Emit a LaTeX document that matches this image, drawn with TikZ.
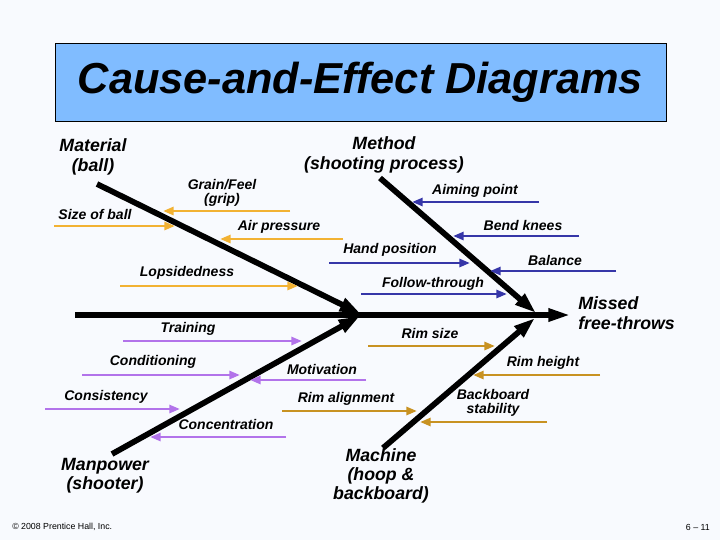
\documentclass[tikz,border=0pt]{standalone}
\usepackage{fontspec}
\setmainfont{Liberation Sans}
\usetikzlibrary{arrows.meta}
\definecolor{bg}{HTML}{F8FAFE}
\definecolor{titlebg}{HTML}{80BCFF}
\definecolor{cmat}{HTML}{F2B233}
\definecolor{cmeth}{HTML}{3636A8}
\definecolor{cman}{HTML}{B273EA}
\definecolor{cmach}{HTML}{C89222}
\begin{document}
\begin{tikzpicture}[x=0.75pt,y=-0.75pt,
 big/.style={font=\fontsize{13.3}{14.5}\selectfont\bfseries\itshape, align=center, inner sep=0},
 small/.style={font=\fontsize{10.5}{11}\selectfont\bfseries\itshape, align=center, inner sep=0},
 bone/.style={line width=4.3pt, -{Triangle[length=16pt,width=10pt]}},
 spine/.style={line width=4.5pt, -{Triangle[length=17pt,width=9pt]}},
 sub/.style={line width=2.2pt, -{Triangle[length=8pt,width=6pt]}},
]
\fill[bg] (0,0) rectangle (720,540);
\useasboundingbox (0,0) rectangle (720,540);
% title
\node[draw=black, line width=0.6pt, fill=titlebg, minimum width=611*0.75pt, minimum height=78*0.75pt, inner sep=0,
      font=\fontsize{32.5}{34}\selectfont\bfseries\itshape] (title) at (360.5,82) {Cause-and-Effect Diagrams};
% main bones
\coordinate (sp0) at (75,315);
\coordinate (effect) at (571,315);
\coordinate (mat0) at (97,184);
\coordinate (mat1) at (361,314);
\coordinate (met0) at (380,178);
\coordinate (met1) at (536,313);
\coordinate (man0) at (112,454);
\coordinate (man1) at (360,316);
\coordinate (mac0) at (383,448);
\coordinate (mac1) at (535,318);
\draw[spine] (sp0) -- (effect);
\draw[bone] (mat0) -- (mat1);
\draw[bone] (met0) -- (met1);
\draw[bone] (man0) -- (man1);
\draw[bone] (mac0) -- (mac1);
% category labels
\node[big] (lmat) at (93,157) {Material\\(ball)};
\node[big] (lmet) at (384,155) {Method\\(shooting process)};
\node[big, anchor=west, align=left] (leff) at (578,313) {Missed\\free-throws};
\node[big] (lman) at (105,476) {Manpower\\(shooter)};
\node[big] (lmac) at (381,476) {Machine\\(hoop \&\\backboard)};
% material causes
\node[small] (t1) at (222,193) {Grain/Feel\\(grip)};
\coordinate (a1s) at (290,211); \coordinate (a1e) at (163,211);
\draw[sub, cmat] (a1s) -- (a1e);
\node[small] (t2) at (95,214) {Size of ball};
\coordinate (a2s) at (54,226); \coordinate (a2e) at (175,226);
\draw[sub, cmat] (a2s) -- (a2e);
\node[small] (t3) at (279,227) {Air pressure};
\coordinate (a3s) at (343,239); \coordinate (a3e) at (220,239);
\draw[sub, cmat] (a3s) -- (a3e);
\node[small] (t4) at (187,273) {Lopsidedness};
\coordinate (a4s) at (120,286); \coordinate (a4e) at (298,286);
\draw[sub, cmat] (a4s) -- (a4e);
% method causes
\node[small] (t5) at (475,191) {Aiming point};
\coordinate (a5s) at (539,202); \coordinate (a5e) at (412,202);
\draw[sub, cmeth] (a5s) -- (a5e);
\node[small] (t6) at (523,225) {Bend knees};
\coordinate (a6s) at (579,236); \coordinate (a6e) at (453,236);
\draw[sub, cmeth] (a6s) -- (a6e);
\node[small] (t7) at (390,250) {Hand position};
\coordinate (a7s) at (329,263); \coordinate (a7e) at (470,263);
\draw[sub, cmeth] (a7s) -- (a7e);
\node[small] (t8) at (555,260) {Balance};
\coordinate (a8s) at (616,271); \coordinate (a8e) at (490,271);
\draw[sub, cmeth] (a8s) -- (a8e);
\node[small] (t9) at (433,284) {Follow-through};
\coordinate (a9s) at (361,294); \coordinate (a9e) at (507,294);
\draw[sub, cmeth] (a9s) -- (a9e);
% manpower causes
\node[small] (t10) at (188,329) {Training};
\coordinate (a10s) at (123,341); \coordinate (a10e) at (302,341);
\draw[sub, cman] (a10s) -- (a10e);
\node[small] (t11) at (153,362) {Conditioning};
\coordinate (a11s) at (82,375); \coordinate (a11e) at (240,375);
\draw[sub, cman] (a11s) -- (a11e);
\node[small] (t12) at (106,397) {Consistency};
\coordinate (a12s) at (45,409); \coordinate (a12e) at (180,409);
\draw[sub, cman] (a12s) -- (a12e);
\node[small] (t13) at (226,424) {Concentration};
\coordinate (a13s) at (286,437); \coordinate (a13e) at (150,437);
\draw[sub, cman] (a13s) -- (a13e);
\node[small] (t14) at (322,369) {Motivation};
\coordinate (a14s) at (366,380); \coordinate (a14e) at (250,380);
\draw[sub, cman] (a14s) -- (a14e);
% machine causes
\node[small] (t15) at (430,333) {Rim size};
\coordinate (a15s) at (368,346); \coordinate (a15e) at (495,346);
\draw[sub, cmach] (a15s) -- (a15e);
\node[small] (t16) at (543,363) {Rim height};
\coordinate (a16s) at (600,375); \coordinate (a16e) at (473,375);
\draw[sub, cmach] (a16s) -- (a16e);
\node[small] (t17) at (346,399) {Rim alignment};
\coordinate (a17s) at (282,411); \coordinate (a17e) at (417,411);
\draw[sub, cmach] (a17s) -- (a17e);
\node[small] (t18) at (493,403) {Backboard\\stability};
\coordinate (a18s) at (547,422); \coordinate (a18e) at (420,422);
\draw[sub, cmach] (a18s) -- (a18e);
% footer
\node[anchor=west, inner sep=0, font=\fontsize{6.6}{7.5}\selectfont] (copy) at (12,527) {© 2008 Prentice Hall, Inc.};
\node[anchor=east, inner sep=0, font=\fontsize{6.6}{7.5}\selectfont] (page) at (710,527) {6 – 11};
\end{tikzpicture}
\end{document}
